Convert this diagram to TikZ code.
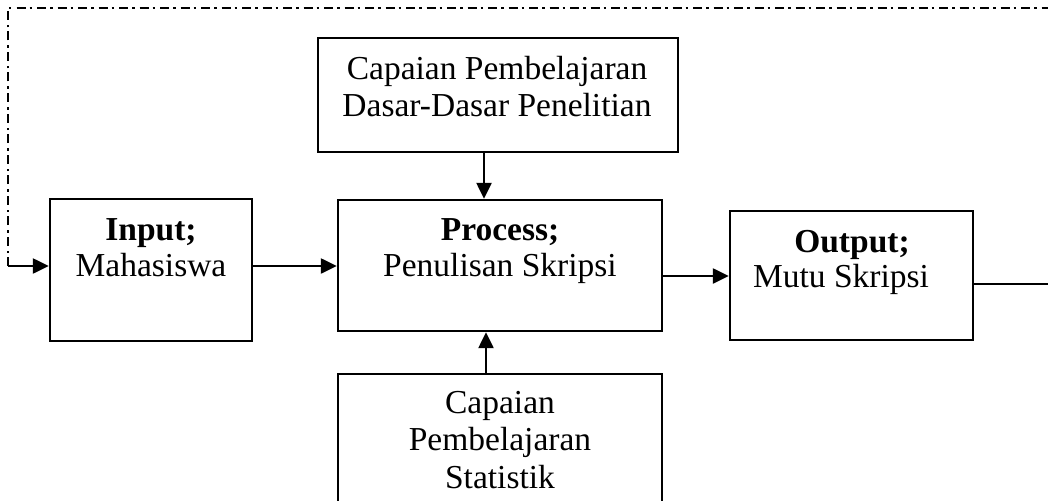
\documentclass[tikz,border=0pt]{standalone}
\usepackage{fontspec}
\setmainfont{Liberation Serif}
\usetikzlibrary{arrows.meta}
\begin{document}
\begin{tikzpicture}[x=1pt,y=-1pt,
  box/.style={draw,line width=2.4pt,inner sep=0pt},
  txt/.style={anchor=base,inner sep=0pt,font=\fontsize{33.5}{38}\selectfont},
  btxt/.style={anchor=base,inner sep=0pt,font=\fontsize{33.5}{38}\selectfont\bfseries},
  arr/.style={line width=2.4pt,-{Triangle[length=16pt,width=15pt]}},
  ln/.style={line width=2.4pt},
  fb/.style={line width=2.4pt,dash pattern=on 9pt off 4pt on 2.5pt off 5pt}]
\useasboundingbox (0,0) rectangle (1048,500);
% boxes
\node[box,minimum width=202pt,minimum height=142pt] (input) at (151,270) {};
\node[box,minimum width=324pt,minimum height=131pt] (process) at (500,265.5) {};
\node[box,minimum width=243pt,minimum height=129pt] (output) at (851.5,275.5) {};
\node[box,minimum width=360pt,minimum height=114pt] (top) at (498,95) {};
\node[box,minimum width=324pt,minimum height=166pt] (bottom) at (500,457) {};
% texts
\node[btxt] (t1) at (151,240) {Input;};
\node[txt] (t2) at (151,276) {Mahasiswa};
\node[btxt] (t3) at (500,240) {Process;};
\node[txt] (t4) at (500,276) {Penulisan Skripsi};
\node[btxt] (t5) at (852,252) {Output;};
\node[txt] (t6) at (841,287) {Mutu Skripsi};
\node[txt] (t7) at (497,80) {Capaian Pembelajaran};
\node[txt] (t8) at (497,117) {Dasar-Dasar Penelitian};
\node[txt] (t9) at (500,413) {Capaian};
\node[txt] (t10) at (500,450) {Pembelajaran};
\node[txt] (t11) at (500,488) {Statistik};
% helper coordinates
\coordinate (fbc) at (8,266);
\coordinate (fbtop) at (8,8);
\coordinate (fbend) at (1060,8);
\coordinate (ya) at (0,266);
\coordinate (yb) at (0,276);
\coordinate (yc) at (0,284);
\coordinate (xa) at (484,0);
\coordinate (xb) at (486,0);
\coordinate (rend) at (1060,284);
% connectors
\draw[fb] (fbc) -- (fbtop) -- (fbend);
\draw[arr] (fbc) -- (input.west |- fbc);
\draw[arr] (input.east |- ya) -- (process.west |- ya);
\draw[arr] (process.east |- yb) -- (output.west |- yb);
\draw[ln] (output.east |- yc) -- (rend);
\draw[arr] (top.south -| xa) -- (process.north -| xa);
\draw[arr] (bottom.north -| xb) -- (process.south -| xb);
\end{tikzpicture}
\end{document}
